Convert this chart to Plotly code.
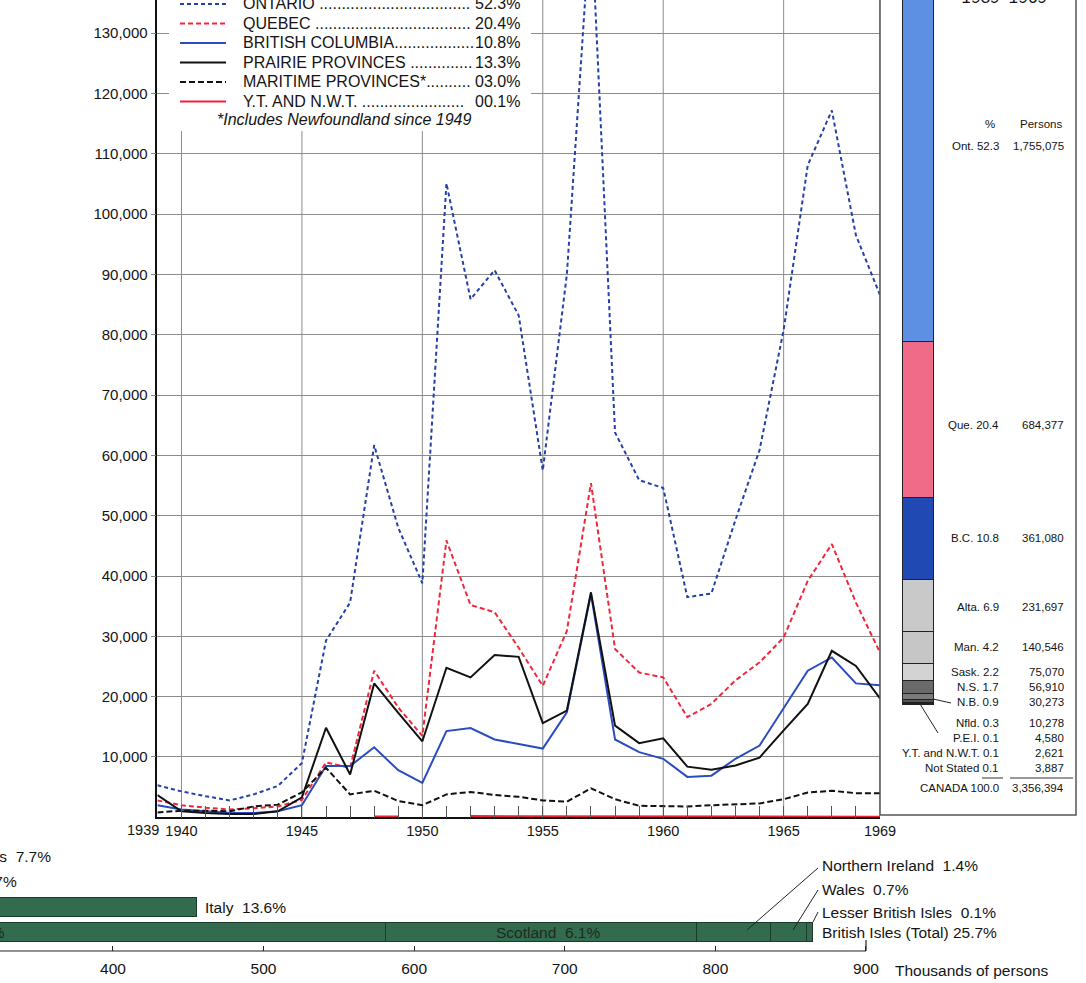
import plotly.graph_objects as go

W, H = 1086, 983


def px(x):
    return x / W


def py(y):
    return 1 - y / H


FONT = "Liberation Sans, Arial, sans-serif"
INK = "#141414"

# ---------------- data: immigrant arrivals by intended destination ----------------
years = list(range(1939, 1970))
ontario = [5300, 4300, 3500, 2800, 3800, 5200, 9000, 29300, 35600, 61700, 48000, 38800,
           105100, 85900, 90700, 83200, 57500, 90000, 150000, 63800, 55900, 54600, 36500,
           37100, 49300, 60900, 80800, 108100, 117200, 96500, 86600]
quebec = [2800, 2000, 1600, 1300, 1500, 1800, 2900, 9100, 8200, 24300, 18200, 13500,
          45900, 35200, 34000, 28100, 21800, 30900, 55400, 27900, 24000, 23200, 16600,
          18800, 22700, 25700, 29800, 39200, 45300, 35600, 27300]
british_columbia = [2000, 1300, 1000, 700, 700, 1000, 2000, 8500, 8500, 11600, 7800, 5700,
                    14300, 14800, 12900, 12100, 11400, 17400, 37000, 12900, 10800, 9700, 6700,
                    6900, 9700, 11900, 18200, 24300, 26500, 22200, 21900]
prairie = [3700, 1000, 700, 550, 550, 1000, 3300, 14850, 7100, 22200, 17300, 12600,
           24800, 23200, 26900, 26600, 15600, 17700, 37300, 15200, 12300, 13100, 8400,
           7900, 8600, 9900, 14400, 18800, 27600, 25100, 19700]
maritime = [800, 1100, 1100, 1000, 1800, 2100, 4150, 8200, 3800, 4400, 2700, 2000,
            3800, 4200, 3700, 3400, 2800, 2600, 4800, 3000, 1900, 1800, 1800, 2000,
            2200, 2300, 3000, 4100, 4400, 4000, 4000]
yt_nwt = [None] * 9 + [150, 150, None, None, 200, 200, 200, 200, 200, 200, 100, 100, 100,
                       100, 100, 100, 100, 100, 100, 100, 100, 80]

series_names = ["ONTARIO", "QUEBEC", "BRITISH COLUMBIA", "PRAIRIE PROVINCES",
                "MARITIME PROVINCES*", "Y.T. AND N.W.T."]
series_pct = ["52.3%", "20.4%", "10.8%", "13.3%", "03.0%", "00.1%"]
series_values = [ontario, quebec, british_columbia, prairie, maritime, yt_nwt]

y_ticks = list(range(10000, 140000, 10000))
labelled_years = [1940, 1945, 1950, 1955, 1960, 1965, 1969]
grid_years = [1940, 1945, 1950, 1955, 1960, 1965, 1969]

# ---------------- data: provincial distribution 1939-1969 ----------------
prov_labels = ["Ont.", "Que.", "B.C.", "Alta.", "Man.", "Sask.", "N.S.", "N.B.", "Nfld.",
               "P.E.I.", "Y.T. and N.W.T.", "Not Stated"]
prov_pct = [52.3, 20.4, 10.8, 6.9, 4.2, 2.2, 1.7, 0.9, 0.3, 0.1, 0.1, 0.1]
prov_persons = ["1,755,075", "684,377", "361,080", "231,697", "140,546", "75,070", "56,910",
                "30,273", "10,278", "4,580", "2,621", "3,887"]
canada_total = ("CANADA", "100.0", "3,356,394")

# ---------------- data: origin of immigrants (thousands of persons) ----------------
uk_parts = ["England", "Scotland", "Northern Ireland", "Wales", "Lesser British Isles"]
uk_values = [581, 207, 49, 24, 3.5]
uk_pct = ["17.4%", "6.1%", "1.4%", "0.7%", "0.1%"]
uk_total_pct = "25.7%"
other_origins = ["Italy", "Germany", "United States"]
other_values = [456, 259, 258]
other_pct = ["13.6%", "7.7%", "7.7%"]
origin_ticks = [400, 500, 600, 700, 800, 900]

# ---------------- styles ----------------
line_styles = [
    dict(color="#2341a8", width=2, dash="4px,3px"),
    dict(color="#f0283c", width=2, dash="5px,3px"),
    dict(color="#2a4cc0", width=2),
    dict(color="#111111", width=2),
    dict(color="#111111", width=2, dash="6px,3px"),
    dict(color="#ee2236", width=2),
]
prov_colors = ["#5d8fe3", "#f06b88", "#2149b3", "#c9c9c9", "#c6c6c6", "#d3d3d3",
               "#6a6a6a", "#7b7b7b", "#555555", "#555555", "#555555", "#555555"]
green = "#336b4f"
green_edge = "#1c3a2a"
GRID = "#8c8c8c"

fig = go.Figure()

# main line chart
for name, vals, st in zip(series_names, series_values, line_styles):
    fig.add_trace(go.Scatter(x=years, y=vals, mode="lines", name=name, line=st,
                             connectgaps=False, xaxis="x", yaxis="y", showlegend=False,
                             hoverinfo="skip"))

# stacked provincial bar (bottom segment first)
for i in reversed(range(len(prov_labels))):
    fig.add_trace(go.Bar(x=[0.195], y=[prov_pct[i]], width=[0.157], name=prov_labels[i],
                         marker=dict(color=prov_colors[i], line=dict(color="#222", width=1)),
                         xaxis="x2", yaxis="y2", showlegend=False, hoverinfo="skip"))

# origins bars
for part, val in zip(uk_parts, uk_values):
    fig.add_trace(go.Bar(x=[val], y=[0], orientation="h", width=[0.78], name=part,
                         marker=dict(color=green, line=dict(color=green_edge, width=1)),
                         xaxis="x3", yaxis="y3", showlegend=False, hoverinfo="skip"))
fig.add_trace(go.Bar(x=other_values, y=[1, 2, 3], orientation="h", width=0.78,
                     marker=dict(color=green, line=dict(color=green_edge, width=1)),
                     xaxis="x3", yaxis="y3", showlegend=False, hoverinfo="skip"))

shapes = []
annotations = []

# vertical grid lines of the main chart (every 5 years)
for gy in grid_years:
    shapes.append(dict(type="line", xref="x", yref="paper", x0=gy, x1=gy, y0=py(817.3),
                       y1=1, layer="below", line=dict(color=GRID, width=1)))

# ---- legend (drawn manually to match the compact original) ----
shapes.append(dict(type="rect", xref="paper", yref="paper", x0=px(169), x1=px(531),
                   y0=py(131), y1=py(-10), fillcolor="white", line=dict(width=0),
                   layer="above"))
row_y = [4, 23.5, 43, 62.5, 82, 101.5]
dots = [34, 35, 18, 14, 10, 23]
for name, pct, st, yy, nd in zip(series_names, series_pct, line_styles, row_y, dots):
    shapes.append(dict(type="line", xref="paper", yref="paper", x0=px(180), x1=px(226),
                       y0=py(yy), y1=py(yy), layer="above",
                       line=dict(color=st["color"], width=2, dash=st.get("dash", "solid"))))
    label = name + ("" if name.endswith("A") or name.endswith("*") else " ") + "." * nd
    annotations.append(dict(xref="paper", yref="paper", x=px(241), y=py(yy), text=label,
                            xanchor="left", yanchor="middle", showarrow=False,
                            font=dict(family=FONT, size=16, color=INK)))
    annotations.append(dict(xref="paper", yref="paper", x=px(522), y=py(yy), text=pct,
                            xanchor="right", yanchor="middle", showarrow=False,
                            font=dict(family=FONT, size=16, color=INK)))
annotations.append(dict(xref="paper", yref="paper", x=px(215), y=py(119.5),
                        text="<i>*Includes Newfoundland since 1949</i>", xanchor="left",
                        yanchor="middle", showarrow=False,
                        font=dict(family=FONT, size=16, color=INK)))

# 1939 tick label (set off to the left of the axis)
annotations.append(dict(xref="paper", yref="paper", x=px(161), y=py(830), text="1939",
                        xanchor="right", yanchor="middle", showarrow=False,
                        font=dict(family=FONT, size=14.5, color=INK)))

# ---- right panel ----
shapes.append(dict(type="rect", xref="paper", yref="paper", x0=px(880), x1=px(1076),
                   y0=py(815), y1=py(-20), line=dict(color="#555", width=1.5),
                   fillcolor="rgba(0,0,0,0)", layer="above"))
annotations.append(dict(xref="paper", yref="paper", x=px(1005), y=py(9), text="<i>1939–1969</i>",
                        xanchor="center", yanchor="bottom", showarrow=False,
                        font=dict(family=FONT, size=17, color=INK)))
small = dict(family=FONT, size=11.5, color=INK)
annotations.append(dict(xref="paper", yref="paper", x=px(990), y=py(124), text="%",
                        xanchor="center", yanchor="middle", showarrow=False, font=small))
annotations.append(dict(xref="paper", yref="paper", x=px(1041), y=py(124), text="Persons",
                        xanchor="center", yanchor="middle", showarrow=False, font=small))
label_y = [146, 425, 538, 607, 647, 672, 687, 702, 723, 738, 753, 768]
for lab, pct, pers, yy in zip(prov_labels, prov_pct, prov_persons, label_y):
    annotations.append(dict(xref="paper", yref="paper", x=px(1001), y=py(yy),
                            text=f"{lab} {pct}", xanchor="right", yanchor="middle",
                            showarrow=False, font=small))
    annotations.append(dict(xref="paper", yref="paper", x=px(1066), y=py(yy), text=pers,
                            xanchor="right", yanchor="middle", showarrow=False, font=small))
annotations.append(dict(xref="paper", yref="paper", x=px(1001), y=py(788),
                        text=f"{canada_total[0]} {canada_total[1]}", xanchor="right",
                        yanchor="middle", showarrow=False, font=small))
annotations.append(dict(xref="paper", yref="paper", x=px(1066), y=py(788),
                        text=canada_total[2], xanchor="right", yanchor="middle",
                        showarrow=False, font=small))
for x0, x1 in [(982, 1003), (1010, 1073)]:
    shapes.append(dict(type="line", xref="paper", yref="paper", x0=px(x0), x1=px(x1),
                       y0=py(778), y1=py(778), line=dict(color="#333", width=1)))
for (x0, y0, x1, y1) in [(933, 699, 951, 703), (920, 704, 938, 733)]:
    shapes.append(dict(type="line", xref="paper", yref="paper", x0=px(x0), y0=py(y0),
                       x1=px(x1), y1=py(y1), line=dict(color="#222", width=1)))

# ---- origins panel texts ----
big = dict(family=FONT, size=15.5, color=INK)
annotations.append(dict(xref="paper", yref="paper", x=px(203), y=py(907),
                        text=f"{other_origins[0]}  {other_pct[0]}", xanchor="left",
                        yanchor="middle", showarrow=False, font=big))
annotations.append(dict(xref="paper", yref="paper", x=px(19), y=py(881),
                        text=f"{other_origins[1]}  {other_pct[1]}", xanchor="right",
                        yanchor="middle", showarrow=False, font=big))
annotations.append(dict(xref="paper", yref="paper", x=px(53), y=py(856),
                        text=f"{other_origins[2]}  {other_pct[2]}", xanchor="right",
                        yanchor="middle", showarrow=False, font=big))
annotations.append(dict(xref="paper", yref="paper", x=px(7), y=py(932),
                        text=f"{uk_parts[0]}  {uk_pct[0]}", xanchor="right",
                        yanchor="middle", showarrow=False, font=dict(family=FONT, size=15.5, color="#1a2b20")))
annotations.append(dict(xref="paper", yref="paper", x=px(548), y=py(932),
                        text=f"{uk_parts[1]}  {uk_pct[1]}", xanchor="center",
                        yanchor="middle", showarrow=False, font=dict(family=FONT, size=15.5, color="#1a2b20")))
right_labels = [(f"{uk_parts[2]}  {uk_pct[2]}", 865), (f"{uk_parts[3]}  {uk_pct[3]}", 889),
                (f"{uk_parts[4]}  {uk_pct[4]}", 912), (f"British Isles (Total) {uk_total_pct}", 932)]
for txt, yy in right_labels:
    annotations.append(dict(xref="paper", yref="paper", x=px(820), y=py(yy), text=txt,
                            xanchor="left", yanchor="middle", showarrow=False, font=big))
for (x0, y0, x1, y1) in [(818, 868, 747, 930), (818, 890, 793, 930), (818, 912, 813, 922)]:
    shapes.append(dict(type="line", xref="paper", yref="paper", x0=px(x0), y0=py(y0),
                       x1=px(x1), y1=py(y1), line=dict(color="#222", width=1)))
# origins axis line ending at 900 with end tick
shapes.append(dict(type="line", xref="paper", yref="paper", x0=0, x1=px(866), y0=py(951),
                   y1=py(951), line=dict(color="#222", width=1.2)))
shapes.append(dict(type="line", xref="paper", yref="paper", x0=px(866), x1=px(866),
                   y0=py(951), y1=py(940), line=dict(color="#222", width=1.2)))
annotations.append(dict(xref="paper", yref="paper", x=px(893), y=py(970),
                        text="Thousands of persons", xanchor="left", yanchor="middle",
                        showarrow=False, font=big))

fig.update_layout(
    width=W, height=H,
    margin=dict(l=0, r=0, t=0, b=0, pad=0),
    paper_bgcolor="white", plot_bgcolor="white",
    barmode="stack", bargap=0, showlegend=False,
    font=dict(family=FONT, color=INK),
    xaxis=dict(domain=[px(157.4), px(880)], range=[1939, 1969], anchor="y",
               tickmode="array", tickvals=years,
               ticktext=[str(v) if v in labelled_years else "" for v in years],
               showgrid=False, zeroline=False,
               showline=True, linecolor="#111", linewidth=1.5, ticks="inside",
               ticklen=12, tickcolor="#555", tickwidth=1,
               tickfont=dict(family=FONT, size=14.5, color=INK), automargin=False),
    yaxis=dict(domain=[py(817.3), 1], range=[0, 135500], anchor="x",
               tickmode="array", tickvals=y_ticks, tickformat=",",
               showgrid=True, gridcolor=GRID, gridwidth=1, zeroline=False,
               showline=True, linecolor="#111", linewidth=1.5, ticks="outside",
               ticklen=5, tickcolor="#888", tickfont=dict(family=FONT, size=15, color=INK),
               automargin=False),
    xaxis2=dict(domain=[px(880), px(1076)], range=[0, 1], anchor="y2", visible=False),
    yaxis2=dict(domain=[py(705), 1], range=[0, 705 / 7.6], anchor="x2", visible=False),
    xaxis3=dict(domain=[0, 1], range=[325, 1046.1], anchor="y3", tickmode="array",
                tickvals=origin_ticks, ticks="inside", ticklen=5, tickcolor="#222",
                showline=False, showgrid=False, zeroline=False, automargin=False,
                ticklabelstandoff=6, tickfont=dict(family=FONT, size=15.5, color=INK)),
    yaxis3=dict(domain=[py(951), py(840)], range=[-0.74, 3.7], anchor="x3", visible=False),
    shapes=shapes, annotations=annotations,
)

fig.write_html("out.html", config={"displayModeBar": False},
               post_script="document.body.style.margin='0';document.body.style.overflow='hidden';")
